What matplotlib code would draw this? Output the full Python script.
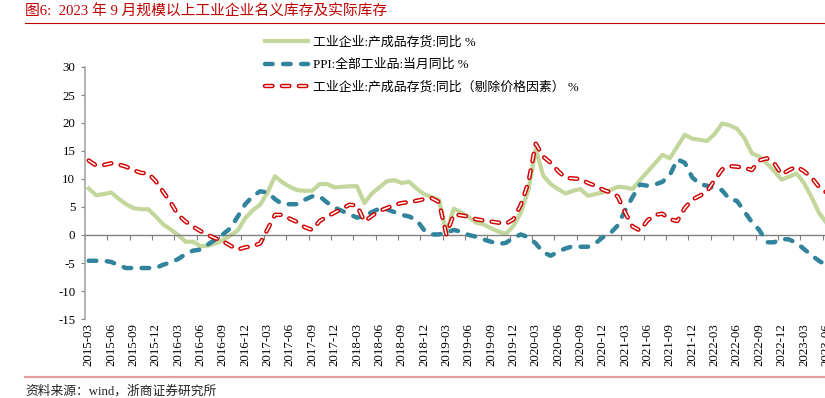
import numpy as np
import pandas as pd
import matplotlib
matplotlib.use("Agg")
import matplotlib.pyplot as plt
from matplotlib.lines import Line2D

plt.rcParams['font.family'] = ['Liberation Serif', 'Noto Sans CJK SC']
plt.rcParams['lines.scale_dashes'] = False
plt.rcParams['axes.unicode_minus'] = False

# ---------------- data (2015-03 .. 2023-09, monthly) ----------------
months = pd.date_range("2015-03-01", "2023-09-01", freq="MS").strftime("%Y-%m").tolist()

inventory_nominal = [
    8.3, 7.1, 7.3, 7.6, 6.5, 5.5, 4.8, 4.6, 4.6, 3.3,            # 2015-03..12
    1.9, 1.0, 0.0, -1.2, -1.2, -2.0, -1.9, -1.5, -0.9, -0.1, 0.8, 3.0,   # 2016
    4.4, 5.4, 7.6, 10.5, 9.4, 8.6, 8.0, 7.9, 7.9, 9.1, 9.1, 8.5,   # 2017
    8.6, 8.7, 8.7, 5.7, 7.4, 8.5, 9.6, 9.8, 9.3, 9.5, 8.3, 7.3,    # 2018
    6.8, 6.3, 0.4, 4.7, 4.0, 3.2, 2.2, 1.9, 1.2, 0.6, 0.2, 1.6,    # 2019
    4.0, 8.0, 15.3, 10.6, 9.1, 8.2, 7.4, 7.9, 8.2, 7.0, 7.3, 7.6,  # 2020
    8.0, 8.6, 8.5, 8.2, 9.8, 11.3, 12.8, 14.3, 13.7, 15.8, 17.9, 17.2,  # 2021
    17.0, 16.8, 18.0, 19.9, 19.6, 19.0, 17.3, 14.6, 14.0, 12.8, 11.4, 9.9,  # 2022
    10.4, 11.0, 9.3, 6.8, 4.0, 2.2, 2.5, 2.3, 2.0,                  # 2023
]

ppi_yoy = [
    -4.6, -4.6, -4.6, -4.8, -5.4, -5.9, -5.9, -5.9, -5.9, -5.9,
    -5.3, -4.9, -4.3, -3.4, -2.8, -2.6, -1.7, -0.8, 0.1, 1.2, 3.3, 5.5,
    6.9, 7.8, 7.6, 6.4, 5.5, 5.5, 5.5, 6.3, 6.9, 6.9, 5.8, 4.9,
    4.3, 3.7, 3.1, 3.4, 4.1, 4.7, 4.6, 4.1, 3.6, 3.3, 2.7, 0.9,
    0.1, 0.1, 0.4, 0.9, 0.6, 0.0, -0.3, -0.8, -1.2, -1.6, -1.4, -0.5,
    0.1, -0.4, -1.5, -3.1, -3.7, -3.0, -2.4, -2.0, -2.1, -2.1, -1.5, -0.4,
    0.3, 1.7, 4.4, 6.8, 9.0, 8.8, 9.0, 9.5, 10.7, 13.5, 12.9, 10.3,
    9.1, 8.8, 8.3, 8.0, 6.4, 6.1, 4.2, 2.3, 0.9, -1.3, -1.3, -0.7,
    -0.8, -1.4, -2.5, -3.6, -4.6, -5.4, -4.4, -3.0, -2.5,
]

inventory_real = [
    13.3, 12.4, 12.5, 12.8, 12.6, 12.2, 11.6, 11.1, 11.0, 9.6,
    7.7, 5.8, 3.6, 2.4, 1.5, 0.7, 0.0, -0.6, -1.1, -1.9, -2.6, -2.2,
    -2.0, -1.5, 1.0, 3.6, 3.6, 2.9, 2.3, 1.4, 0.9, 2.5, 3.3, 4.0,
    4.7, 5.4, 5.3, 2.4, 3.4, 4.3, 4.8, 5.4, 5.7, 5.9, 6.1, 6.4,
    6.6, 5.9, 0.1, 3.7, 3.5, 3.3, 2.8, 2.6, 2.4, 2.2, 2.0, 2.8,
    5.4, 9.3, 16.3, 14.0, 12.9, 11.4, 10.2, 10.1, 10.0, 9.3, 8.8, 8.1,
    7.6, 6.9, 4.0, 1.5, 0.8, 2.6, 3.6, 3.8, 2.8, 2.5, 4.8, 6.3,
    7.0, 7.8, 9.8, 11.7, 12.3, 12.2, 12.0, 11.6, 13.3, 13.7, 12.8, 10.8,
    11.6, 12.2, 11.4, 10.3, 8.6, 7.6, 6.9, 5.3, 4.5,
]

labels = ["工业企业:产成品存货:同比 %",
          "PPI:全部工业品:当月同比 %",
          "工业企业:产成品存货:同比（剔除价格因素） %"]
title = "图6:  2023 年 9 月规模以上工业企业名义库存及实际库存"
source = "资料来源：wind，浙商证券研究所"
yticks = [-15, -10, -5, 0, 5, 10, 15, 20, 25, 30]

# ---------------- figure ----------------
W, H = 825, 398
fig = plt.figure(figsize=(W / 100, H / 100), dpi=100)
ax_left, ax_right, ax_top, ax_bot = 85, 852.4, 67, 319
ax = fig.add_axes([ax_left / W, 1 - ax_bot / H, (ax_right - ax_left) / W, (ax_bot - ax_top) / H])
fig.patch.set_facecolor("white")

x = np.arange(len(months))
GREEN = "#C3D69B"
TEAL = "#31849B"
RED = "#D00000"

l1, = ax.plot(x, inventory_nominal, color=GREEN, lw=3.0, solid_joinstyle="round", zorder=2)
l2, = ax.plot(x, ppi_yoy, color=TEAL, lw=3.2, dashes=(5.5, 7.5),
              dash_capstyle="round", zorder=3)
l3a, = ax.plot(x, inventory_real, color=RED, lw=3.2, dashes=(5.4, 6.8),
               dash_capstyle="round", zorder=4)
l3b, = ax.plot(x, inventory_real, color="white", lw=1.1, dashes=(5.4, 6.8),
               dash_capstyle="round", zorder=5)

ax.set_xlim(-0.5, len(months) - 0.5)
ax.set_ylim(-15, 30)
ax.set_yticks(yticks)
ax.set_yticklabels([str(v) for v in yticks])

for s in ("top", "right"):
    ax.spines[s].set_visible(False)
ax.spines["left"].set_color("#A6A6A6")
ax.spines["left"].set_linewidth(1.2)
ax.spines["bottom"].set_position(("data", 0))
ax.spines["bottom"].set_color("#808080")
ax.spines["bottom"].set_linewidth(1.0)

ax.tick_params(axis="y", direction="out", length=3, color="#808080",
               labelsize=9.3, pad=4)
ax.set_xticks(np.arange(-0.5, len(months), 3))
ax.tick_params(axis="x", direction="out", length=3.6, color="#808080",
               labelbottom=False)

sec = ax.secondary_xaxis("bottom")
sec.set_xticks(x[::3])
sec.set_xticklabels(months[::3], rotation=90)
sec.tick_params(length=0, pad=3, labelsize=9.3)
sec.spines["bottom"].set_visible(False)

leg = ax.legend([l1, l2, (l3a, l3b)], labels, loc="upper left",
                bbox_to_anchor=(265 / W, 1 - 36 / H), bbox_transform=fig.transFigure,
                frameon=False, fontsize=9.3, handlelength=3.33, handletextpad=0.4,
                labelspacing=0.8, borderpad=0, borderaxespad=0)

# title, rules, source
fig.text(25 / W, 1 - 12 / H, title, color="#C00000", fontsize=10.65, va="center", ha="left")
fig.add_artist(Line2D([25 / W, 1.0], [1 - 23 / H] * 2, color="#C00000", lw=0.8))
fig.add_artist(Line2D([25 / W, 1.0], [1 - 377 / H] * 2, color="#E39E9E", lw=1.6))
fig.text(25 / W, 1 - 391 / H, source, color="#222222", fontsize=9.2, va="center", ha="left")

fig.savefig("out.png", dpi=100)
